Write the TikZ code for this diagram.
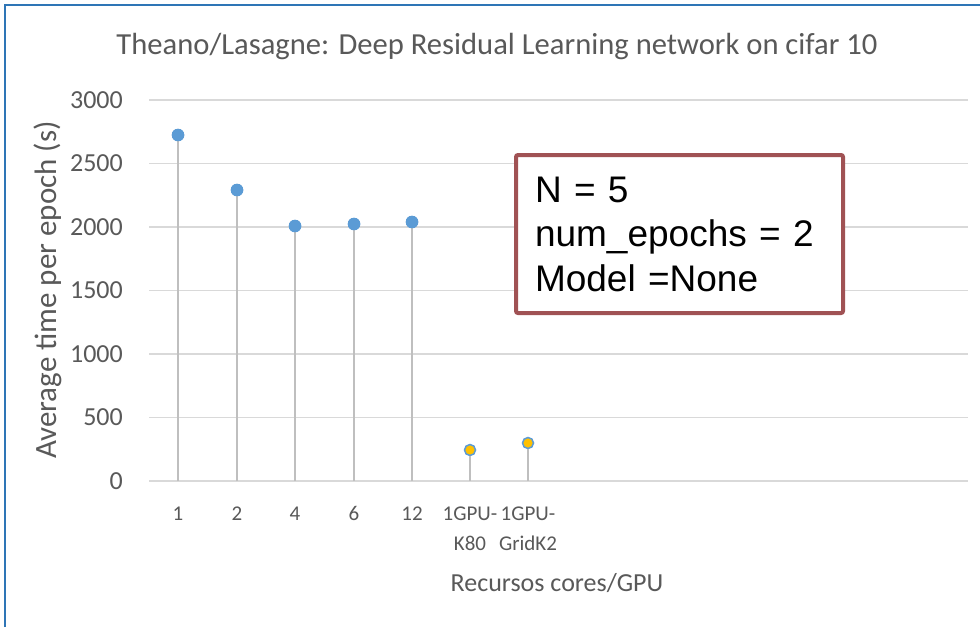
\documentclass[tikz,border=0pt]{standalone}
\usepackage{fontspec}
\setmainfont{Carlito}
\newfontfamily\arialf{Liberation Sans}
\definecolor{txtgray}{RGB}{89,89,89}
\definecolor{gridgray}{RGB}{217,217,217}
\definecolor{stemgray}{RGB}{191,191,191}
\definecolor{ptblue}{RGB}{91,155,213}
\definecolor{ptgold}{RGB}{255,192,0}
\definecolor{framblue}{RGB}{46,117,182}
\definecolor{boxred}{RGB}{160,82,84}
\begin{document}
\begin{tikzpicture}[x=1pt,y=-1pt,
  gridline/.style={draw=gridgray,line width=1.2pt},
  stem/.style={draw=stemgray,line width=1.2pt},
  dotb/.style={circle,fill=ptblue,inner sep=0pt,minimum size=12.5pt},
  dotg/.style={circle,fill=ptgold,draw=ptblue,line width=1.5pt,inner sep=0pt,minimum size=11pt},
  ytick/.style={anchor=east,text=txtgray,font=\fontsize{26}{30}\selectfont,inner sep=0pt},
  xtick/.style={anchor=base,text=txtgray,font=\fontsize{21}{30}\selectfont,inner sep=0pt,align=center},
  axtitle/.style={text=txtgray,font=\fontsize{26}{30}\selectfont,inner sep=0pt},
  infobox/.style={draw=boxred,line width=4pt,rounded corners=2pt,fill=white,
    minimum width=327pt,minimum height=158pt,text width=289pt,align=left,inner xsep=19pt,
    font=\arialf\fontsize{37}{44.5}\selectfont}]
\useasboundingbox (0,0) rectangle (980,627);
\fill[white] (0,0) rectangle (980,627);
% frame
\coordinate (fa) at (5,627);
\coordinate (fb) at (5,5);
\coordinate (fc) at (980,5);
\draw[framblue,line width=2.5pt] (fa) -- (fb) -- (fc);
% title
\node[text=txtgray,font=\fontsize{30.6}{36}\selectfont,inner sep=0pt] (title) at (497,47) {Theano/Lasagne: Deep Residual Learning network on cifar 10};
% grid
\foreach \v/\yy in {0/481,500/417.5,1000/354,1500/290.5,2000/227,2500/163.5,3000/100}{
  \coordinate (gl\v) at (149,\yy);
  \coordinate (gr\v) at (968,\yy);
  \draw[gridline] (gl\v) -- (gr\v);
  \node[ytick] (yt\v) at (123,\yy) {\v};
}
% y axis title
\node[axtitle,font=\fontsize{31}{36}\selectfont,rotate=90] (ytitle) at (48,290) {Average time per epoch (s)};
% data
\foreach \i/\xx/\yy in {1/178/135,2/237/190,3/295/226,4/354/224,5/412/222}{
  \coordinate (b\i) at (\xx,481);
  \node[dotb] (p\i) at (\xx,\yy) {};
  \draw[stem] (b\i) -- (p\i);
  \node[dotb] at (p\i) {};
}
\foreach \i/\xx/\yy in {6/470/450,7/528/443}{
  \coordinate (b\i) at (\xx,481);
  \node[dotg] (p\i) at (\xx,\yy) {};
  \draw[stem] (b\i) -- (p\i.south);
}
% x ticks
\node[xtick] (x1) at (178,520) {1};
\node[xtick] (x2) at (237,520) {2};
\node[xtick] (x3) at (295,520) {4};
\node[xtick] (x4) at (354,520) {6};
\node[xtick] (x5) at (412,520) {12};
\node[xtick] (x6) at (470,550) {1GPU-\\K80};
\node[xtick] (x7) at (528,550) {1GPU-\\GridK2};
% x axis title
\node[axtitle] (xtitle) at (557,583) {Recursos cores/GPU};
% info box
\node[infobox] (info) at (679.5,234) {N = 5\\num\_epochs = 2\\Model =None};
\end{tikzpicture}
\end{document}
